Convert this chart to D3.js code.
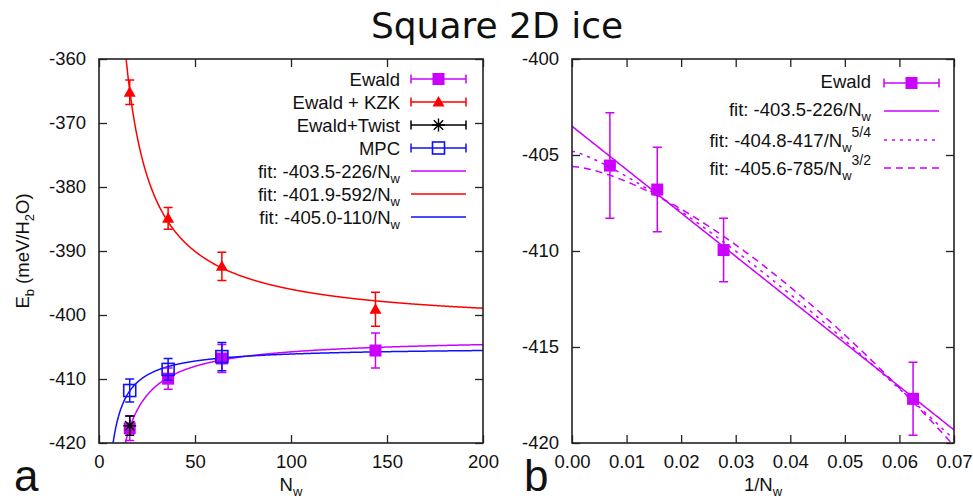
<!DOCTYPE html>
<html><head><meta charset="utf-8">
<script src="https://cdn.jsdelivr.net/npm/d3@7"></script>
<style>
body{margin:0;background:#fff}
svg{display:block}
text{font-family:"Liberation Sans",Arial,Helvetica,sans-serif;fill:#111}
</style>
</head><body>
<svg id="c" width="973" height="501"></svg>
<script>
// ---------------- data ----------------
const sizesN   = [16, 36, 64, 144];
const ewaldE   = [-417.7, -409.95, -406.8, -405.55];
const ewaldErr = [1.9, 1.65, 2.2, 2.75];
const kzkE     = [-365.2, -384.9, -392.4, -399.1];
const kzkErr   = [1.9, 1.7, 2.2, 2.65];
const twistN   = [16];
const twistE   = [-417.3];
const twistErr = [1.5];
const mpcN     = [16, 36, 64];
const mpcE     = [-411.8, -408.5, -406.5];
const mpcErr   = [1.8, 1.7, 2.2];
// left fits: E = a + b / N
const fitA = [-403.5, -401.9, -405.0];
const fitB = [-226, 592, -110];
const fitLabels = ["fit: -403.5-226/N", "fit: -401.9-592/N", "fit: -405.0-110/N"];
// right fits: E = a + b * (1/N)^p
const rFitA = [-403.5, -404.8, -405.6];
const rFitB = [-226, -417, -785];
const rFitP = [1, 1.25, 1.5];
const rFitLabels = ["fit: -403.5-226/N", "fit: -404.8-417/N", "fit: -405.6-785/N"];
const rFitSup = ["", "5/4", "3/2"];
const leftXTicks  = [0, 50, 100, 150, 200];
const leftYTicks  = [-420, -410, -400, -390, -380, -370, -360];
const rightXTicks = [0, 0.01, 0.02, 0.03, 0.04, 0.05, 0.06, 0.07];
const rightYTicks = [-420, -415, -410, -405, -400];

// ---------------- style ----------------
const MAG = "#cc00ff", RED = "#ff0000", BLUE = "#1010ff", BLK = "#000000", AX = "#222";
const FS = 18.5;
const svg = d3.select("#c");
const hyph = f => (d => f(d).replace("\u2212", "-"));

svg.append("text").attr("x", 497).attr("y", 38).attr("text-anchor", "middle")
  .style("font-family", "'DejaVu Sans',sans-serif").style("font-size", "36px").text("Square 2D ice");

function axes(g, x, y, xt, yt, xfmt, yfmt) {
  const [x0, x1] = x.range(), [y1, y0] = y.range();
  const bx = d3.axisBottom(x).tickValues(xt).tickSize(-8).tickSizeOuter(0).tickPadding(12).tickFormat(xfmt);
  const tx = d3.axisTop(x).tickValues(xt).tickSize(-8).tickSizeOuter(0).tickFormat("");
  const ly = d3.axisLeft(y).tickValues(yt).tickSize(-8).tickSizeOuter(0).tickPadding(13).tickFormat(yfmt);
  const ry = d3.axisRight(y).tickValues(yt).tickSize(-8).tickSizeOuter(0).tickFormat("");
  const parts = [
    g.append("g").attr("transform", `translate(0,${y1})`).call(bx),
    g.append("g").attr("transform", `translate(0,${y0})`).call(tx),
    g.append("g").attr("transform", `translate(${x0},0)`).call(ly),
    g.append("g").attr("transform", `translate(${x1},0)`).call(ry)
  ];
  parts.forEach(p => {
    p.select(".domain").remove();
    p.selectAll("line").attr("stroke", AX).attr("stroke-width", 1.3);
    p.selectAll("text").style("font-size", FS + "px").style("font-family", "'Liberation Sans',Arial,sans-serif").attr("fill", "#111");
  });
  g.append("rect").attr("x", x0).attr("y", y0).attr("width", x1 - x0).attr("height", y1 - y0)
    .attr("fill", "none").attr("stroke", AX).attr("stroke-width", 1.6);
}

function marker(g, type, cx, cy, color) {
  if (type === "sq") {
    g.append("rect").attr("x", cx - 6).attr("y", cy - 6).attr("width", 12).attr("height", 12).attr("fill", color);
  } else if (type === "tri") {
    g.append("path").attr("d", `M${cx},${cy - 6}L${cx + 6},${cy + 4.5}L${cx - 6},${cy + 4.5}Z`).attr("fill", color);
  } else if (type === "osq") {
    g.append("rect").attr("x", cx - 6).attr("y", cy - 6).attr("width", 12).attr("height", 12)
      .attr("fill", "none").attr("stroke", color).attr("stroke-width", 1.6);
  } else if (type === "star") {
    const r = 6.5, d = r * 0.72;
    g.append("path").attr("d", `M${cx - r},${cy}H${cx + r}M${cx},${cy - r}V${cy + r}M${cx - d},${cy - d}L${cx + d},${cy + d}M${cx - d},${cy + d}L${cx + d},${cy - d}`)
      .attr("stroke", color).attr("stroke-width", 1.4).attr("fill", "none");
  }
}

function series(g, x, y, xs, ys, errs, type, color) {
  xs.forEach((v, i) => {
    const cx = x(v), cy = y(ys[i]), t = y(ys[i] + errs[i]), b = y(ys[i] - errs[i]);
    g.append("path").attr("d", `M${cx},${t}V${b}M${cx - 4.5},${t}H${cx + 4.5}M${cx - 4.5},${b}H${cx + 4.5}`)
      .attr("stroke", color).attr("stroke-width", 1.5).attr("fill", "none");
    marker(g, type, cx, cy, color);
  });
}

function legendSample(g, x0, x1, cy, type, color) {
  g.append("path").attr("d", `M${x0},${cy}H${x1}M${x0},${cy - 4.5}V${cy + 4.5}M${x1},${cy - 4.5}V${cy + 4.5}`)
    .attr("stroke", color).attr("stroke-width", 1.5).attr("fill", "none");
  marker(g, type, (x0 + x1) / 2, cy, color);
}

function label(g, xe, yb, main, sub, sup) {
  const t = g.append("text").attr("x", xe).attr("y", yb).attr("text-anchor", "end").style("font-size", FS + "px");
  t.append("tspan").text(main);
  if (sub) t.append("tspan").attr("dy", 5).style("font-size", "13px").text(sub);
  if (sup) t.append("tspan").attr("dy", -15).style("font-size", "14px").text(sup);
  return t;
}

// ---------------- left panel ----------------
const xL = d3.scaleLinear().domain([0, 200]).range([99, 483]);
const yL = d3.scaleLinear().domain([-420, -360]).range([443, 59]);
const gL = svg.append("g");
svg.append("clipPath").attr("id", "clipL").append("rect").attr("x", 99).attr("y", 59).attr("width", 384).attr("height", 384);
const fitColors = [MAG, RED, BLUE];
const curvesL = gL.append("g").attr("clip-path", "url(#clipL)");
const nGrid = d3.range(4, 200.01, 0.25);
fitA.forEach((a, i) => {
  curvesL.append("path").datum(nGrid.map(n => [n, a + fitB[i] / n]))
    .attr("d", d3.line().x(d => xL(d[0])).y(d => yL(Math.max(-440, Math.min(-340, d[1])))))
    .attr("fill", "none").attr("stroke", fitColors[i]).attr("stroke-width", 1.5);
});
series(gL, xL, yL, sizesN, ewaldE, ewaldErr, "sq", MAG);
series(gL, xL, yL, sizesN, kzkE, kzkErr, "tri", RED);
series(gL, xL, yL, twistN, twistE, twistErr, "star", BLK);
series(gL, xL, yL, mpcN, mpcE, mpcErr, "osq", BLUE);
axes(gL, xL, yL, leftXTicks, leftYTicks, hyph(d3.format("d")), hyph(d3.format("d")));

// left legend
const rowsL = [79, 102, 125, 148, 171, 194, 217];
const legNames = ["Ewald", "Ewald + KZK", "Ewald+Twist", "MPC"];
const legTypes = ["sq", "tri", "star", "osq"];
const legColors = [MAG, RED, BLK, BLUE];
legNames.forEach((n, i) => {
  label(gL, 400, rowsL[i] + 6.5, n);
  legendSample(gL, 411, 466, rowsL[i], legTypes[i], legColors[i]);
});
fitLabels.forEach((n, i) => {
  label(gL, 400, rowsL[4 + i] + 6.5, n, "w");
  gL.append("line").attr("x1", 411).attr("x2", 466).attr("y1", rowsL[4 + i]).attr("y2", rowsL[4 + i])
    .attr("stroke", fitColors[i]).attr("stroke-width", 1.5);
});

// ---------------- right panel ----------------
const xR = d3.scaleLinear().domain([0, 0.07]).range([572, 954]);
const yR = d3.scaleLinear().domain([-420, -400]).range([443, 59]);
const gR = svg.append("g");
svg.append("clipPath").attr("id", "clipR").append("rect").attr("x", 572).attr("y", 59).attr("width", 382).attr("height", 384);
const curvesR = gR.append("g").attr("clip-path", "url(#clipR)");
const dashes = [null, "3,5", "7,5"];
const xGrid = d3.range(0, 0.07001, 0.0005);
rFitA.forEach((a, i) => {
  curvesR.append("path").datum(xGrid.map(v => [v, a + rFitB[i] * Math.pow(v, rFitP[i])]))
    .attr("d", d3.line().x(d => xR(d[0])).y(d => yR(d[1])))
    .attr("fill", "none").attr("stroke", MAG).attr("stroke-width", 1.5).attr("stroke-dasharray", dashes[i]);
});
series(gR, xR, yR, sizesN.map(n => 1 / n), ewaldE, ewaldErr, "sq", MAG);
axes(gR, xR, yR, rightXTicks, rightYTicks, d3.format(".2f"), hyph(d3.format("d")));

// right legend
label(gR, 871, 88, "Ewald");
legendSample(gR, 884, 939, 83, "sq", MAG);
const rowsR = [111, 140, 168];
const baseR = [116, 147, 175];
rFitLabels.forEach((n, i) => {
  label(gR, 871, baseR[i], n, "w", rFitSup[i]);
  gR.append("line").attr("x1", 884).attr("x2", 939).attr("y1", rowsR[i]).attr("y2", rowsR[i])
    .attr("stroke", MAG).attr("stroke-width", 1.5).attr("stroke-dasharray", dashes[i]);
});

// ---------------- axis titles & panel letters ----------------
const tN = svg.append("text").attr("x", 291).attr("y", 491).attr("text-anchor", "middle").style("font-size", FS + "px");
tN.append("tspan").text("N");
tN.append("tspan").attr("dy", 5).style("font-size", "13px").text("w");
const tR = svg.append("text").attr("x", 763).attr("y", 491).attr("text-anchor", "middle").style("font-size", FS + "px");
tR.append("tspan").text("1/N");
tR.append("tspan").attr("dy", 5).style("font-size", "13px").text("w");

const tY = svg.append("text").attr("transform", "translate(29,251) rotate(-90)").attr("text-anchor", "middle").style("font-size", FS + "px");
tY.append("tspan").text("E");
tY.append("tspan").attr("dy", 5).style("font-size", "13px").text("b");
tY.append("tspan").attr("dy", -5).text(" (meV/H");
tY.append("tspan").attr("dy", 5).style("font-size", "13px").text("2");
tY.append("tspan").attr("dy", -5).text("O)");

svg.append("text").attr("x", 14).attr("y", 491).style("font-size", "44px").text("a");
svg.append("text").attr("x", 524).attr("y", 491).style("font-size", "44px").text("b");
</script>
</body></html>
